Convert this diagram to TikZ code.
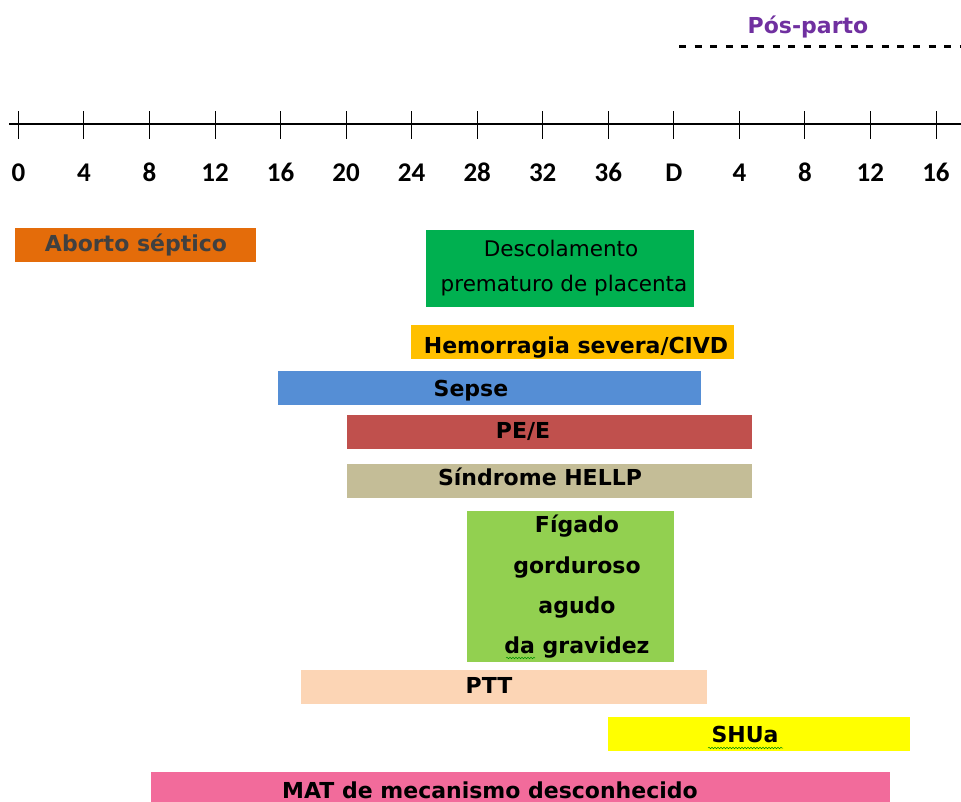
\documentclass[tikz,border=0pt]{standalone}
\usepackage{fontspec}
\setmainfont{DejaVu Sans}
\newfontfamily\axfont{Carlito}
\usetikzlibrary{decorations.pathmorphing}
\definecolor{cOrange}{HTML}{E46C0A}
\definecolor{cDGreen}{HTML}{00B050}
\definecolor{cAmber}{HTML}{FFC000}
\definecolor{cBlue}{HTML}{558ED5}
\definecolor{cRed}{HTML}{C0504D}
\definecolor{cTan}{HTML}{C4BD97}
\definecolor{cLGreen}{HTML}{92D050}
\definecolor{cPeach}{HTML}{FCD5B5}
\definecolor{cYellow}{HTML}{FFFF00}
\definecolor{cPink}{HTML}{F26B9B}
\definecolor{cPurple}{HTML}{7030A0}
\definecolor{cGray}{HTML}{404040}
\begin{document}
\begin{tikzpicture}[x=1pt,y=-1pt,
  bar/.style={draw=none,inner sep=0pt,anchor=north west},
  lbl/.style={inner sep=0pt,anchor=base,font=\fontsize{22}{26}\selectfont\bfseries},
  small/.style={inner sep=0pt,anchor=base,font=\fontsize{21.5}{26}\selectfont},
  axlbl/.style={inner sep=0pt,anchor=base,font=\axfont\fontsize{27}{30}\selectfont\bfseries},
  tick/.style={line width=0.9pt},
  squig/.style={draw=green!55!black,line width=0.5pt,decorate,decoration={snake,amplitude=0.8pt,segment length=3pt}}]
\useasboundingbox (0,0) rectangle (961,802);
% post-partum
\node[lbl,text=cPurple] (pp) at (808,34) {Pós-parto};
\coordinate (ppL) at (679,47);
\coordinate (ppR) at (961,47);
\draw[line width=3pt,dash pattern=on 7pt off 8.6pt] (ppL) -- (ppR);
% axis
\coordinate (axL) at (9,124);
\coordinate (axR) at (961,124);
\draw[line width=1.6pt] (axL) -- (axR);
\foreach \i/\t in {0/0,1/4,2/8,3/12,4/16,5/20,6/24,7/28,8/32,9/36,10/D,11/4,12/8,13/12,14/16}{
  \coordinate (tk\i) at ({18.4+65.54*\i},124);
  \draw[tick] ([yshift=-15pt]tk\i) -- ([yshift=13pt]tk\i);
  \node[axlbl] (lb\i) at ({18.4+65.54*\i},182) {\t};
}
% bars
\node[bar,fill=cOrange,minimum width=241pt,minimum height=34pt] (b1) at (15,228) {};
\node[lbl,text=cGray] (t1) at (136,252) {Aborto séptico};
\node[bar,fill=cDGreen,minimum width=268pt,minimum height=77pt] (b2) at (426,230) {};
\node[small] (t2a) at (561,257) {Descolamento};
\node[small] (t2b) at (564,292) {prematuro de placenta};
\node[bar,fill=cAmber,minimum width=323pt,minimum height=34pt] (b3) at (411,325) {};
\node[lbl] (t3) at (576,353) {Hemorragia severa/CIVD};
\node[bar,fill=cBlue,minimum width=423pt,minimum height=34pt] (b4) at (278,371) {};
\node[lbl] (t4) at (471,396) {Sepse};
\node[bar,fill=cRed,minimum width=405pt,minimum height=34pt] (b5) at (347,415) {};
\node[lbl] (t5) at (523,438) {PE/E};
\node[bar,fill=cTan,minimum width=405pt,minimum height=34pt] (b6) at (347,464) {};
\node[lbl] (t6) at (540,485) {Síndrome HELLP};
\node[bar,fill=cLGreen,minimum width=207pt,minimum height=151pt] (b7) at (467,511) {};
\node[lbl] (t7a) at (577,532) {Fígado};
\node[lbl] (t7b) at (577,573) {gorduroso};
\node[lbl] (t7c) at (577,613) {agudo};
\node[lbl] (t7d) at (577,653) {da gravidez};
\node[bar,fill=cPeach,minimum width=406pt,minimum height=34pt] (b8) at (301,670) {};
\node[lbl] (t8) at (489,693) {PTT};
\node[bar,fill=cYellow,minimum width=302pt,minimum height=34pt] (b9) at (608,717) {};
\node[lbl] (t9) at (745,742) {SHUa};
\node[bar,fill=cPink,minimum width=739pt,minimum height=34pt] (b10) at (151,772) {};
\node[lbl] (t10) at (490,798) {MAT de mecanismo desconhecido};
% spell-check squiggles
\coordinate (sqC) at (708,748);
\coordinate (sqD) at (783,748);
\draw[squig] (sqC) -- (sqD);
\coordinate (sqA) at (506,658);
\coordinate (sqB) at (535,658);
\draw[squig] (sqA) -- (sqB);
\end{tikzpicture}
\end{document}
